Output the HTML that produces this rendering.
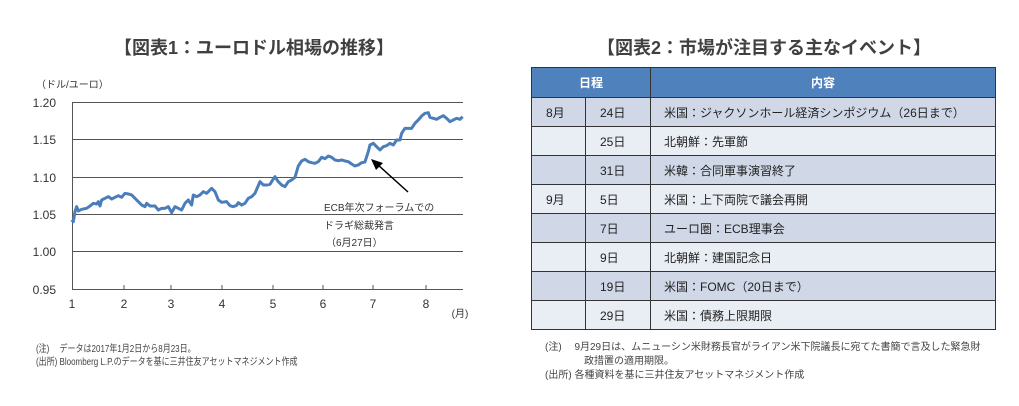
<!DOCTYPE html>
<html><head><meta charset="utf-8"><style>
body{margin:0;width:1019px;height:406px;background:#fff;overflow:hidden;font-family:"Liberation Sans","Noto Sans CJK JP",sans-serif;position:relative;color:#333}
.t{position:absolute;white-space:nowrap}
.title{font-size:18px;font-weight:bold;color:#404040}
.note{font-size:10px;color:#444}
.cond{transform:scaleX(0.8);transform-origin:left top}
table{position:absolute;left:531px;top:67px;border-collapse:collapse;font-size:12px;color:#222;table-layout:fixed;width:464px}
td{height:28px;border:1px solid #333;padding:0}
th{height:27px;background:#4f81bd;color:#fff;font-size:12px;border:1px solid #333}
tr.a td{background:#d0d8e8}tr.b td{background:#e9edf4}
td.c{padding-left:14px}td.l{padding-left:13px}
</style></head><body>
<div class="t title" style="left:114px;top:34px">【図表1：ユーロドル相場の推移】</div>
<div class="t title" style="left:597px;top:34px">【図表2：市場が注目する主なイベント】</div>
<svg style="position:absolute;left:0;top:0" width="520" height="330">
<g font-size="12" fill="#333" font-family="Liberation Sans, Noto Sans CJK JP, sans-serif">
<text x="36" y="88" font-size="10">（ドル/ユーロ）</text>
<g stroke="#555" stroke-width="1">
<line x1="72" y1="102.5" x2="463" y2="102.5"/><line x1="72" y1="139.5" x2="463" y2="139.5"/><line x1="72" y1="177.5" x2="463" y2="177.5"/><line x1="72" y1="214.5" x2="463" y2="214.5"/><line x1="72" y1="251.5" x2="463" y2="251.5"/><line x1="72" y1="289.5" x2="463" y2="289.5"/>
<line x1="72.5" y1="102" x2="72.5" y2="289"/>
<line x1="124" y1="289" x2="124" y2="285"/><line x1="171" y1="289" x2="171" y2="285"/><line x1="222" y1="289" x2="222" y2="285"/><line x1="273" y1="289" x2="273" y2="285"/><line x1="323" y1="289" x2="323" y2="285"/><line x1="373" y1="289" x2="373" y2="285"/><line x1="426" y1="289" x2="426" y2="285"/>
</g>
<g text-anchor="end"><text x="56" y="107">1.20</text><text x="56" y="144">1.15</text><text x="56" y="182">1.10</text><text x="56" y="219">1.05</text><text x="56" y="256">1.00</text><text x="56" y="294">0.95</text></g>
<g text-anchor="middle"><text x="72" y="308">1</text><text x="124" y="308">2</text><text x="171" y="308">3</text><text x="222" y="308">4</text><text x="273" y="308">5</text><text x="323" y="308">6</text><text x="373" y="308">7</text><text x="426" y="308">8</text><text x="460" y="317" font-size="10">(月)</text></g>
<text x="324" y="211" font-size="10">ECB年次フォーラムでの</text>
<text x="324" y="229" font-size="10">ドラギ総裁発言</text>
<text x="326" y="246" font-size="10">（6月27日）</text>
</g>
<g transform="translate(30,80) scale(0.3333)">
<polyline fill="none" stroke="#4a7ebb" stroke-width="9" stroke-linejoin="round" points="125,420 130,425 135,395 140,380 145,393 155,388 170,385 180,378 190,370 200,372 205,365 210,378 215,360 225,355 235,350 245,357 255,352 265,347 275,352 285,340 295,342 305,345 315,355 325,365 335,375 345,380 350,370 360,378 375,378 385,390 395,385 405,385 415,380 425,398 435,380 445,385 455,390 465,370 475,360 485,375 490,345 500,350 510,345 520,335 530,340 545,325 555,335 565,360 575,367 590,365 600,377 610,380 620,376 625,368 635,375 645,370 655,355 665,350 675,340 690,305 700,315 710,315 720,313 728,300 735,290 745,305 755,315 765,320 775,305 785,300 795,292 805,258 815,243 825,238 835,245 845,248 855,250 865,245 875,232 885,236 895,228 905,232 915,240 925,242 935,240 945,243 955,245 965,252 975,258 985,255 995,248 1005,246 1010,230 1015,215 1020,195 1030,190 1040,200 1050,210 1060,200 1070,197 1080,190 1090,195 1100,180 1110,180 1115,160 1125,145 1135,145 1145,145 1155,130 1165,120 1175,108 1185,100 1195,98 1200,112 1210,115 1220,118 1230,112 1240,107 1250,115 1260,125 1270,120 1280,115 1290,118 1298,110"/>
</g>
<line x1="408" y1="192" x2="377" y2="164" stroke="#000" stroke-width="1.5"/>
<polygon points="371,159 383,163 376,170" fill="#000"/>
</svg>
<div class="t note cond" style="left:36px;top:340px">(注)　 データは2017年1月2日から8月23日。</div>
<div class="t note cond" style="left:36px;top:353px">(出所) Bloomberg L.P.のデータを基に三井住友アセットマネジメント作成</div>
<table>
<colgroup><col style="width:54px"><col style="width:65px"><col style="width:345px"></colgroup>
<tr><th colspan="2">日程</th><th>内容</th></tr>
<tr class="a"><td class="c">8月</td><td class="c">24日</td><td class="l">米国：ジャクソンホール経済シンポジウム（26日まで）</td></tr>
<tr class="b"><td></td><td class="c">25日</td><td class="l">北朝鮮：先軍節</td></tr>
<tr class="a"><td></td><td class="c">31日</td><td class="l">米韓：合同軍事演習終了</td></tr>
<tr class="b"><td class="c">9月</td><td class="c">5日</td><td class="l">米国：上下両院で議会再開</td></tr>
<tr class="a"><td></td><td class="c">7日</td><td class="l">ユーロ圏：ECB理事会</td></tr>
<tr class="b"><td></td><td class="c">9日</td><td class="l">北朝鮮：建国記念日</td></tr>
<tr class="a"><td></td><td class="c">19日</td><td class="l">米国：FOMC（20日まで）</td></tr>
<tr class="b"><td></td><td class="c">29日</td><td class="l">米国：債務上限期限</td></tr>
</table>
<div class="t note" style="left:545px;top:338px">(注)　 9月29日は、ムニューシン米財務長官がライアン米下院議長に宛てた書簡で言及した緊急財</div>
<div class="t note" style="left:584px;top:352px">政措置の適用期限。</div>
<div class="t note" style="left:545px;top:366px">(出所) 各種資料を基に三井住友アセットマネジメント作成</div>
</body></html>
